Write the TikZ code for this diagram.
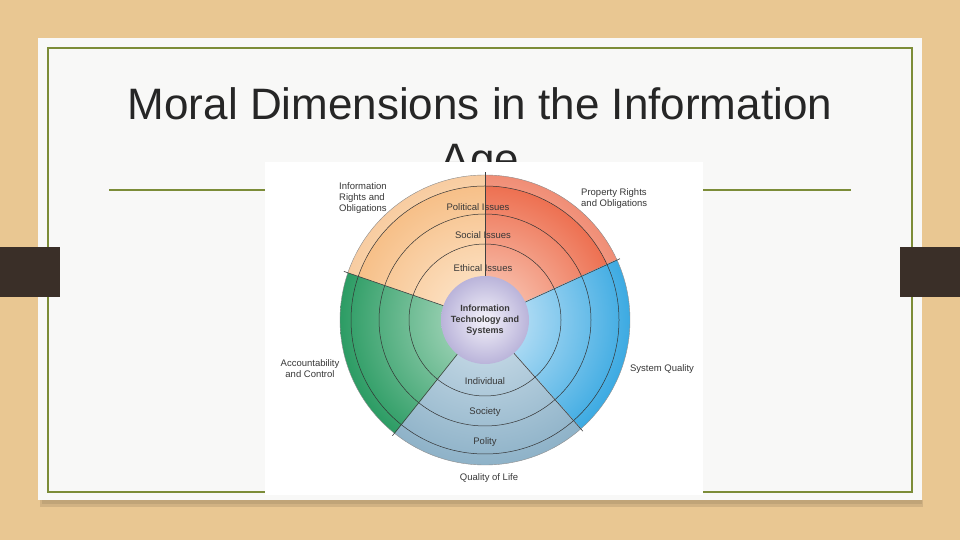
\documentclass[tikz,border=0pt]{standalone}
\usepackage{fontspec}
\setmainfont{Liberation Sans}
\usepackage{tikz}
\usetikzlibrary{positioning}

\definecolor{wood}{RGB}{233,199,146}
\definecolor{paper}{RGB}{248,248,247}
\definecolor{frame}{RGB}{124,140,56}
\definecolor{bar}{RGB}{58,47,40}
\definecolor{titlegray}{RGB}{38,38,38}
\definecolor{labelgray}{RGB}{55,55,55}
\definecolor{orIn}{RGB}{254,236,214}
\definecolor{orOut}{RGB}{246,188,130}
\definecolor{rdIn}{RGB}{251,214,198}
\definecolor{rdOut}{RGB}{236,104,72}
\definecolor{blIn}{RGB}{214,236,250}
\definecolor{blOut}{RGB}{60,170,226}
\definecolor{qlIn}{RGB}{208,225,236}
\definecolor{qlOut}{RGB}{142,178,200}
\definecolor{grIn}{RGB}{186,224,202}
\definecolor{grOut}{RGB}{44,156,100}
\definecolor{coreIn}{RGB}{244,242,250}
\definecolor{coreOut}{RGB}{186,180,218}

\begin{document}
\begin{tikzpicture}[
    x=1pt, y=1pt,
    title/.style={font=\fontsize{44}{55}\selectfont, text=titlegray, align=center, inner sep=0pt},
    lbl/.style={font=\fontsize{9.5}{11}\selectfont, text=labelgray, align=center, inner sep=0pt},
    core/.style={circle, minimum size=88pt, inner sep=0pt, inner color=coreIn, outer color=coreOut,
        font=\fontsize{9}{11}\selectfont\bfseries, text=labelgray, align=center},
    ring/.style={draw=black!80, line width=0.5pt},
    divider/.style={draw=black!75, line width=0.6pt},
]
    \useasboundingbox (0,0) rectangle (960,540);
    \fill[wood] (0,0) rectangle (960,540);

    % slide
    \fill[black, opacity=0.10] (40,33) rectangle (923,40);
    \fill[black, opacity=0.08] (42,36) rectangle (922,40);
    \fill[paper] (38,40) rectangle (922,502);
    \draw[frame, line width=2pt] (47.7,48) rectangle (912,492.3);
    \fill[bar] (0,243) rectangle (60,293);
    \fill[bar] (900,243) rectangle (960,293);
    \draw[frame, line width=2pt] (109,349.5) -- (851,349.5);
    \node[title, anchor=base] (heading) at (480,365) {Moral Dimensions in the Information\\Age};

    % picture
    \fill[white] (265,45) rectangle (703,378);
    \coordinate (hub) at (485,220);

    \foreach \a/\b/\ci/\co in {90/161/orIn/orOut, 24.6/90/rdIn/rdOut, -48.5/24.6/blIn/blOut,
                               231.5/311.5/qlIn/qlOut, 161/231.5/grIn/grOut}{
        \begin{scope}
            \clip (hub) -- ++(\a:145) arc[start angle=\a, end angle=\b, radius=145] -- cycle;
            \shade[inner color=\ci, outer color=\co] (hub) circle (145);
        \end{scope}
    }
    \begin{scope}
        \clip (hub) -- ++(24.6:150) arc[start angle=24.6, end angle=161, radius=150] -- cycle;
        \fill[white, opacity=0.25, even odd rule] (hub) circle (145) (hub) circle (134);
    \end{scope}

    \draw[ring] (hub) circle (76);
    \draw[ring] (hub) circle (106);
    \draw[ring] (hub) circle (134);
    \draw[draw=black!45, line width=0.4pt] (hub) circle (145);

    \node[core] (core) at (hub) {Information\\Technology and\\Systems};

    \draw[divider] (core.90) -- ++(90:104);
    \draw[divider] (core.24.6) -- ++(24.6:104);
    \draw[divider] (core.161) -- ++(161:105);
    \draw[divider] (core.231.5) -- ++(231.5:104);
    \draw[divider] (core.311.5) -- ++(311.5:104);

    \node[lbl] (political) at (478,333) {Political Issues};
    \node[lbl] (social) at (483,305) {Social Issues};
    \node[lbl] (ethical) at (483,272) {Ethical Issues};
    \node[lbl] (individual) at (485,159) {Individual};
    \node[lbl] (society) at (485,128) {Society};
    \node[lbl] (polity) at (485,98) {Polity};

    \node[lbl, anchor=west, align=left] (inforights) at (339,342) {Information\\Rights and\\Obligations};
    \node[lbl, anchor=west, align=left] (property) at (581,341.5) {Property Rights\\and Obligations};
    \node[lbl] (account) at (310,171.5) {Accountability\\and Control};
    \node[lbl] (sysquality) at (662,171) {System Quality};
    \node[lbl] (qol) at (489,62) {Quality of Life};
\end{tikzpicture}
\end{document}
